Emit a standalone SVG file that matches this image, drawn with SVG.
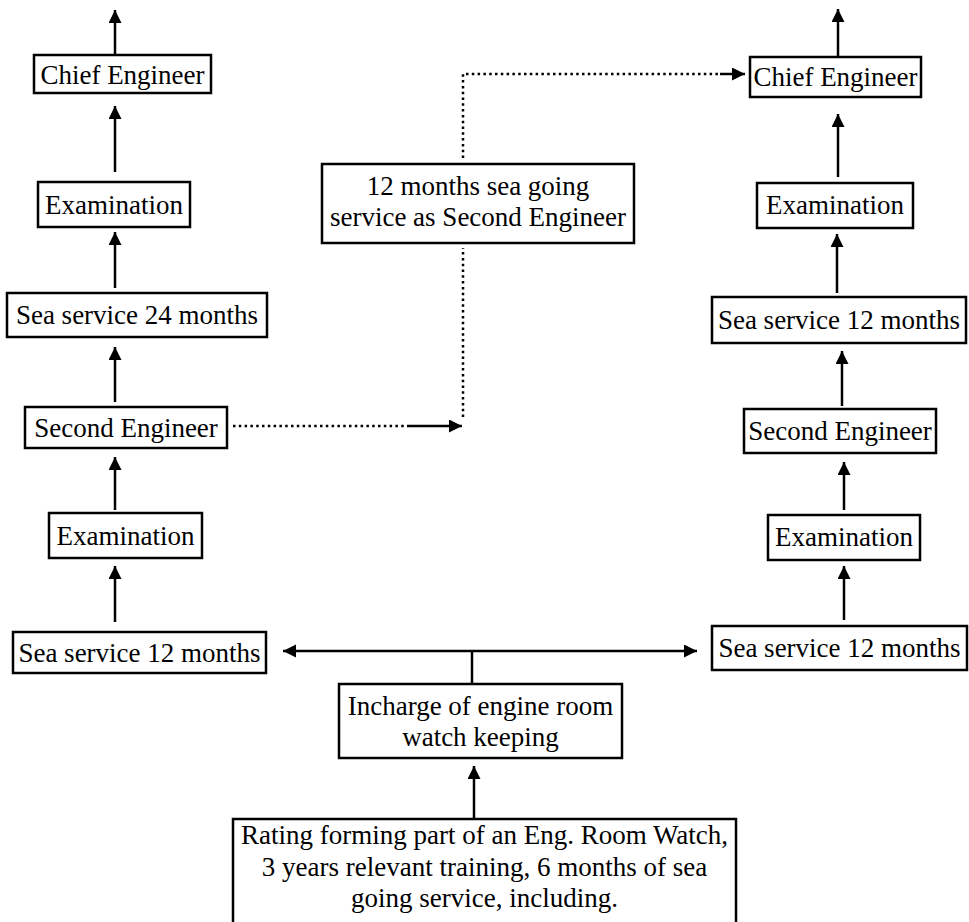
<svg xmlns="http://www.w3.org/2000/svg" width="969" height="922" viewBox="0 0 969 922">
<style>
.box{fill:#fff;stroke:#000;stroke-width:2.5}
.t{font-family:"Liberation Serif","Times New Roman",serif;font-size:27px;fill:#000;text-anchor:middle}
.c{fill:none;stroke:#000;stroke-width:2.5}
.d{fill:none;stroke:#000;stroke-width:2.5;stroke-dasharray:2.5 3.3}
</style>
<defs>
<marker id="ah" markerUnits="userSpaceOnUse" markerWidth="14" markerHeight="14" refX="13" refY="6.5" orient="auto">
<path d="M0,0 L13,6.5 L0,13 z" fill="#000"/>
</marker>
</defs>
<rect width="969" height="922" fill="#fff"/>

<g id="connectors">
<!-- left column -->
<line class="c" x1="115" y1="55" x2="115" y2="10" marker-end="url(#ah)"/>
<line class="c" x1="115" y1="172" x2="115" y2="106" marker-end="url(#ah)"/>
<line class="c" x1="115" y1="288" x2="115" y2="232" marker-end="url(#ah)"/>
<line class="c" x1="115" y1="402" x2="115" y2="347" marker-end="url(#ah)"/>
<line class="c" x1="115" y1="510" x2="115" y2="457" marker-end="url(#ah)"/>
<line class="c" x1="115" y1="622" x2="115" y2="566" marker-end="url(#ah)"/>
<!-- right column -->
<line class="c" x1="838" y1="57" x2="838" y2="9" marker-end="url(#ah)"/>
<line class="c" x1="838" y1="177" x2="838" y2="114" marker-end="url(#ah)"/>
<line class="c" x1="837" y1="293" x2="837" y2="234" marker-end="url(#ah)"/>
<line class="c" x1="842" y1="406" x2="842" y2="351" marker-end="url(#ah)"/>
<line class="c" x1="844" y1="510" x2="844" y2="462" marker-end="url(#ah)"/>
<line class="c" x1="844" y1="620" x2="844" y2="566" marker-end="url(#ah)"/>
<!-- bottom fork -->
<line class="c" x1="472" y1="684" x2="472" y2="651"/>
<line class="c" x1="472" y1="651" x2="283" y2="651" marker-end="url(#ah)"/>
<line class="c" x1="472" y1="651" x2="697" y2="651" marker-end="url(#ah)"/>
<line class="c" x1="474" y1="819" x2="474" y2="766" marker-end="url(#ah)"/>
<!-- dotted routes -->
<path class="d" d="M233,426 H408"/>
<line class="c" x1="408" y1="426" x2="462" y2="426" marker-end="url(#ah)"/>
<path class="d" d="M463,417 V248"/>
<path class="d" d="M463,158 V74 H720"/>
<line class="c" x1="720" y1="74" x2="745" y2="74" marker-end="url(#ah)"/>
</g>

<g id="chief-left"><rect class="box" x="34" y="55" width="177" height="38"/><text class="t" x="122.5" y="84">Chief Engineer</text></g>
<g id="exam-left-1"><rect class="box" x="38" y="182" width="152" height="45"/><text class="t" x="114" y="213.5">Examination</text></g>
<g id="sea24-left"><rect class="box" x="7" y="293" width="260" height="44"/><text class="t" x="137" y="324">Sea service 24 months</text></g>
<g id="second-left"><rect class="box" x="25" y="407" width="202" height="41"/><text class="t" x="126" y="437">Second Engineer</text></g>
<g id="exam-left-2"><rect class="box" x="49" y="513" width="153" height="45"/><text class="t" x="125.5" y="544.5">Examination</text></g>
<g id="sea12-left"><rect class="box" x="13" y="632" width="253" height="41"/><text class="t" x="139.5" y="662">Sea service 12 months</text></g>

<g id="middle-service"><rect class="box" x="322" y="164" width="312" height="79"/><text class="t" x="478" y="195">12 months sea going</text><text class="t" x="478" y="226">service as Second Engineer</text></g>

<g id="chief-right"><rect class="box" x="750" y="57" width="171" height="40"/><text class="t" x="835.5" y="86">Chief Engineer</text></g>
<g id="exam-right-1"><rect class="box" x="757" y="183" width="156" height="45"/><text class="t" x="835" y="214">Examination</text></g>
<g id="sea12-right-top"><rect class="box" x="712" y="297" width="254" height="46"/><text class="t" x="839" y="329">Sea service 12 months</text></g>
<g id="second-right"><rect class="box" x="744" y="409" width="192" height="44"/><text class="t" x="840" y="440">Second Engineer</text></g>
<g id="exam-right-2"><rect class="box" x="768" y="515" width="152" height="45"/><text class="t" x="844" y="546">Examination</text></g>
<g id="sea12-right"><rect class="box" x="712" y="626" width="255" height="44"/><text class="t" x="839.5" y="657">Sea service 12 months</text></g>

<g id="incharge"><rect class="box" x="339" y="684" width="283" height="74"/><text class="t" x="480.5" y="715">Incharge of engine room</text><text class="t" x="480.5" y="746">watch keeping</text></g>

<g id="rating"><rect class="box" x="233" y="819" width="503" height="120"/><text class="t" x="484.5" y="844">Rating forming part of an Eng. Room Watch,</text><text class="t" x="484.5" y="876">3 years relevant training, 6 months of sea</text><text class="t" x="484.5" y="907">going service, including.</text></g>
</svg>
